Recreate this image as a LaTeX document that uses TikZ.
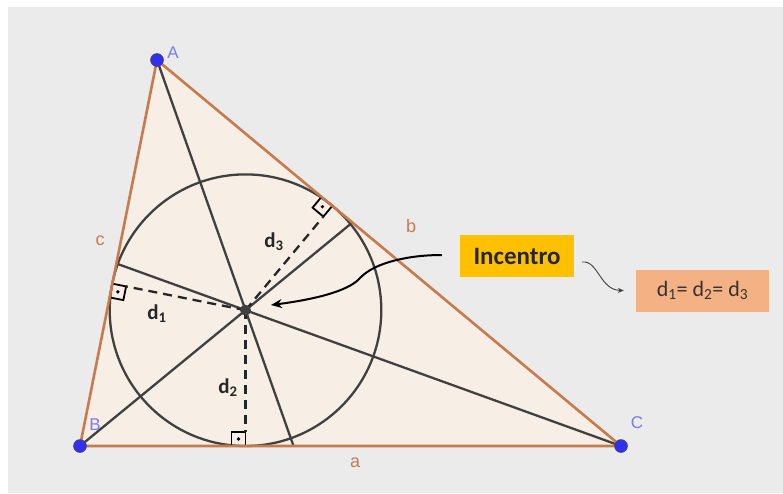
\documentclass[tikz,border=0pt]{standalone}
\usepackage{fontspec}
\setmainfont{Carlito}
\newfontfamily\geo{Liberation Sans}
\usetikzlibrary{calc,arrows.meta}
\definecolor{bgc}{HTML}{EBEBEB}
\definecolor{trifill}{HTML}{F7EEE5}
\definecolor{edge}{HTML}{C87A4C}
\definecolor{seg}{HTML}{404040}
\definecolor{ptblue}{HTML}{3030EE}
\definecolor{lblblue}{HTML}{7B7BEB}
\definecolor{incbox}{HTML}{FFC000}
\definecolor{salmon}{HTML}{F4B183}
\begin{document}
\begin{tikzpicture}[x=1pt,y=-1pt,
  sideline/.style={draw=edge,line width=2.6pt,line join=round},
  bisect/.style={draw=seg,line width=2.3pt},
  distline/.style={draw=black!85,line width=2.3pt,dash pattern=on 9pt off 6pt},
  rightmark/.style={draw=black,line width=1.8pt},
  vtx/.style={circle,fill=ptblue,draw=black!70,line width=0.5pt,inner sep=0pt,minimum size=13pt},
  vlabel/.style={font=\geo\fontsize{17}{17}\selectfont,text=lblblue,inner sep=0pt},
  slabel/.style={font=\geo\fontsize{18}{18}\selectfont,text=edge,inner sep=0pt},
  dlabel/.style={font=\bfseries\fontsize{21}{21}\selectfont,text=black!85,inner sep=0pt},
  boxlabel/.style={inner sep=0pt,minimum height=42pt}
]
\useasboundingbox (0,0) rectangle (783,493);
\fill[white] (0,0) rectangle (783,493);
\fill[bgc] (8,7) rectangle (783,493);

\coordinate (A) at (157,60);
\coordinate (B) at (80,446);
\coordinate (C) at (621,446);
\coordinate (I) at (245.5,310.2);

% triangle fill
\fill[trifill] (A) -- (B) -- (C) -- cycle;

% incircle
\draw[seg,line width=2.3pt] (I) circle[radius=135.8];

% bisectors
\draw[bisect] (A) -- (intersection of A--I and B--C);
\draw[bisect] (B) -- (intersection of B--I and A--C);
\draw[bisect] (C) -- (intersection of C--I and A--B);

% feet of perpendiculars
\coordinate (Fa) at ($(B)!(I)!(C)$);
\coordinate (Fc) at ($(B)!(I)!(A)$);
\coordinate (Fb) at ($(A)!(I)!(C)$);

% right-angle squares
\foreach \F/\T in {Fa/B,Fc/B,Fb/A}{
  \coordinate (\F u) at ($(\F)!14pt!(\T)$);
  \coordinate (\F n) at ($(\F)!14pt!(I)$);
  \coordinate (\F d) at ($(\F u)+(\F n)-(\F)$);
  \draw[rightmark] (\F) -- (\F u) -- (\F d) -- (\F n) -- cycle;
  \fill[black] ($(\F)!0.5!(\F d)$) circle[radius=1.8pt];
  \draw[distline] (I) -- (\F n);
}

% sides
\draw[sideline] (A) -- (B) -- (C) -- cycle;

% incenter
\fill[seg] (I) circle[radius=5.5pt];

% vertices
\node[vtx] (vA) at (A) {};
\node[vtx] (vB) at (B) {};
\node[vtx] (vC) at (C) {};
\node[vlabel] (lA) at (173,53) {A};
\node[vlabel] (lB) at (95,425) {B};
\node[vlabel] (lC) at (637,423) {C};

% side labels
\node[slabel] (la) at (355,463) {a};
\node[slabel] (lb) at (411,226) {b};
\node[slabel] (lc) at (100,241) {c};

% distance labels
\node[dlabel] (d1) at (157,314) {d\textsubscript{1}};
\node[dlabel] (d2) at (228,388) {d\textsubscript{2}};
\node[dlabel] (d3) at (274,242) {d\textsubscript{3}};

% boxes
\node[boxlabel,fill=incbox,minimum width=114pt,font=\bfseries\fontsize{25}{25}\selectfont,text=black!85] (inc) at (517,256) {Incentro};
\node[boxlabel,fill=salmon,minimum width=133pt,font=\fontsize{22}{22}\selectfont,text=black!80] (eq) at (702.5,290.5) {d\textsubscript{1}= d\textsubscript{2}= d\textsubscript{3}};

% arrows
\coordinate (s1) at ($(inc.west)+(-18,-1)$);
\coordinate (e1) at (271,305);
\draw[line width=2pt,-{Stealth[length=11pt,width=9pt]}] (s1) .. controls (410,255) and (375,262) .. (360,278) .. controls (348,292) and (310,300) .. (e1);

\coordinate (s2) at ($(inc.east)+(8,6)$);
\coordinate (e2) at ($(eq.west)+(-12,0)$);
\draw[seg,line width=0.9pt,-{Stealth[length=6pt,width=5pt]}] (s2) .. controls (598,260) and (600,290) .. (e2);
\end{tikzpicture}
\end{document}
